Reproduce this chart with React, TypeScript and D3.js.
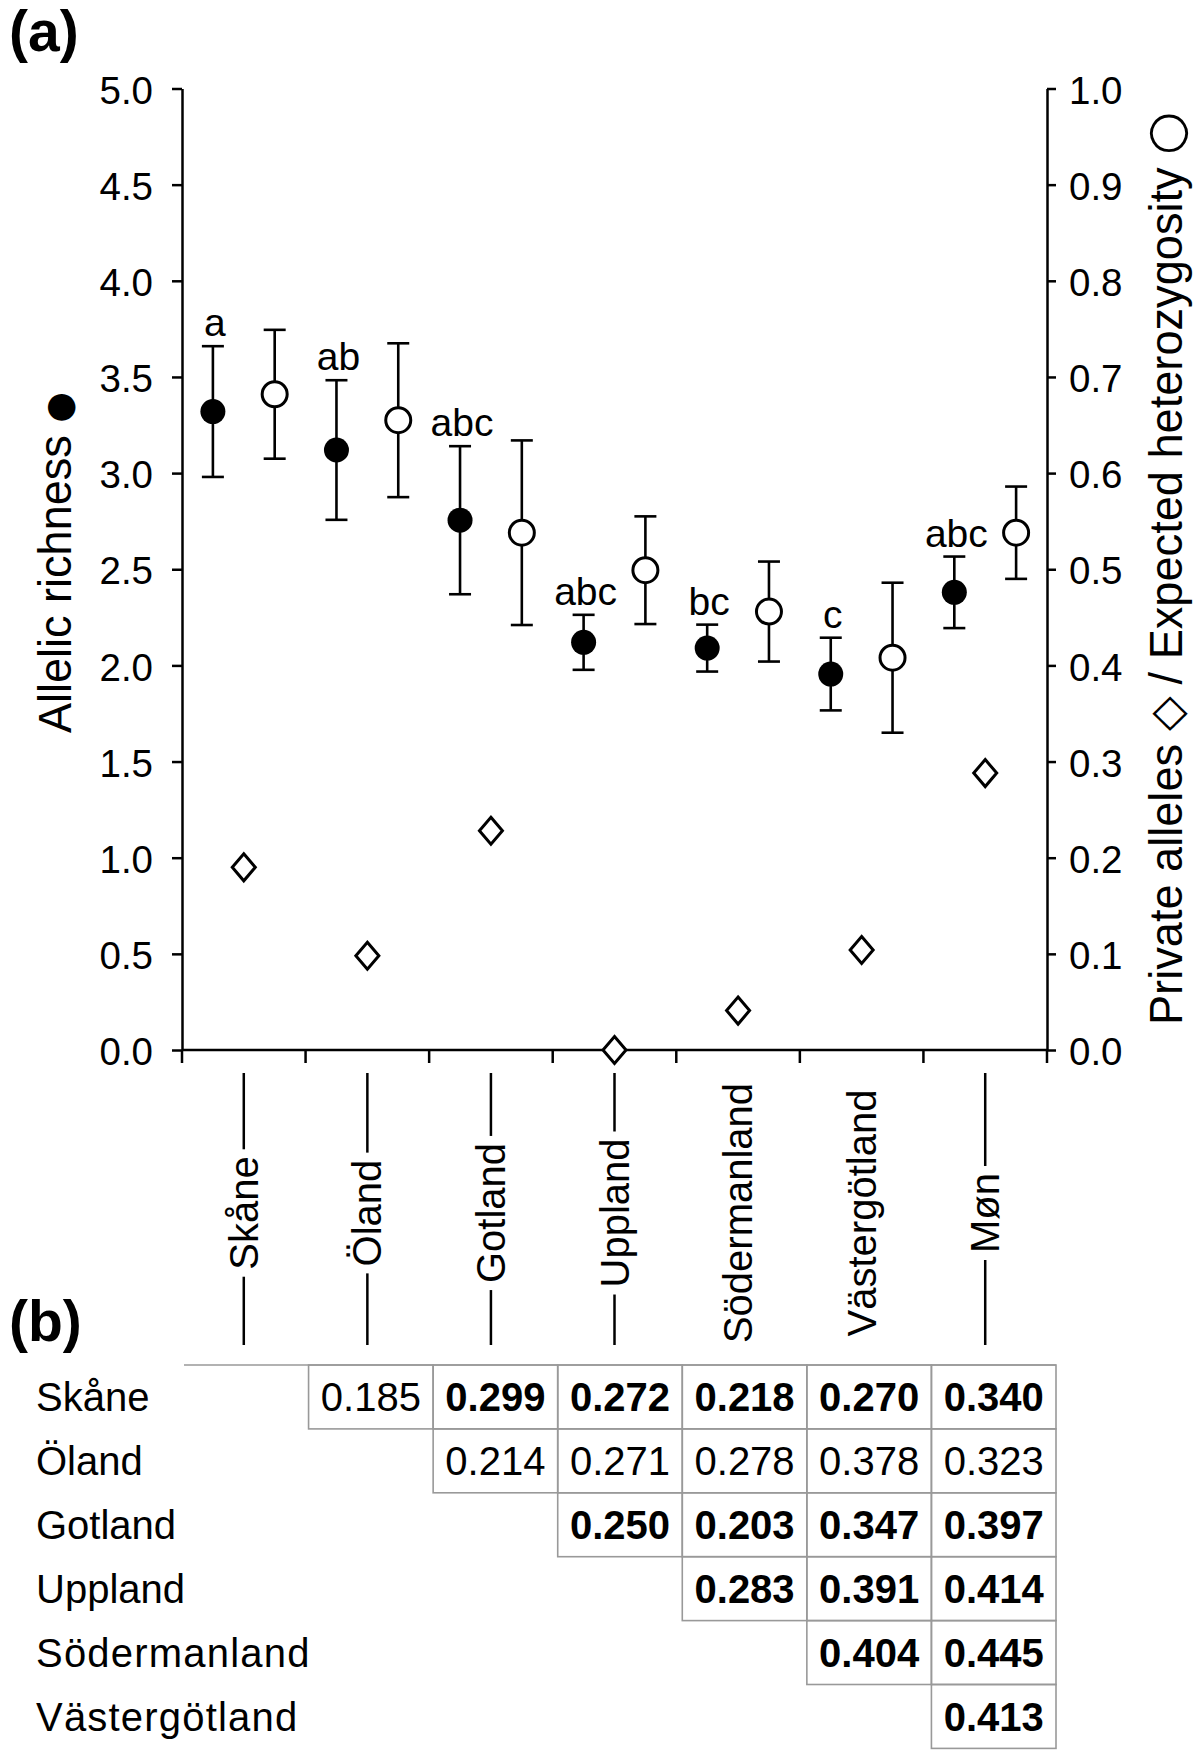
import React, { useEffect, useRef } from "react";
import * as d3 from "d3";

// ---------- data ----------
const categories = ["Skåne", "Öland", "Gotland", "Uppland", "Södermanland", "Västergötland", "Møn"];
const allelicRichness = [3.32, 3.12, 2.755, 2.12, 2.09, 1.955, 2.38];
const allelicRichnessErr = [0.34, 0.363, 0.385, 0.143, 0.122, 0.189, 0.186];
const expectedHet = [0.682, 0.655, 0.538, 0.499, 0.456, 0.408, 0.538];
const expectedHetErr = [0.067, 0.08, 0.096, 0.056, 0.052, 0.078, 0.048];
const privateAlleles = [0.19, 0.098, 0.228, 0.0, 0.041, 0.104, 0.288];
const groupLetters = ["a", "ab", "abc", "abc", "bc", "c", "abc"];
const leftTicks = [0, 0.5, 1.0, 1.5, 2.0, 2.5, 3.0, 3.5, 4.0, 4.5, 5.0];
const rightTicks = [0, 0.1, 0.2, 0.3, 0.4, 0.5, 0.6, 0.7, 0.8, 0.9, 1.0];
// axis titles as [text, symbolFontSize or 0] pieces
const leftTitleParts: [string, number][] = [["Allelic richness ", 0], ["●", 36]];
const rightTitleParts: [string, number][] = [
  ["Private alleles ", 0], ["◇", 0], [" / Expected heterozygosity ", 0], ["○", 50],
];

const tableRows = ["Skåne", "Öland", "Gotland", "Uppland", "Södermanland", "Västergötland"];
const fstValues = [
  [0.185, 0.299, 0.272, 0.218, 0.27, 0.34],
  [0.214, 0.271, 0.278, 0.378, 0.323],
  [0.25, 0.203, 0.347, 0.397],
  [0.283, 0.391, 0.414],
  [0.404, 0.445],
  [0.413],
];
const fstSignificant = [
  [false, true, true, true, true, true],
  [false, false, false, false, false],
  [true, true, true, true],
  [true, true, true],
  [true, true],
  [true],
];

export default function App() {
  const ref = useRef<SVGSVGElement>(null);

  useEffect(() => {
    const svg = d3.select(ref.current);
    svg.selectAll("*").remove();
    const W = 1200, H = 1750;
    const font = "'Liberation Sans', Arial, Helvetica, sans-serif";
    const symFont = "'DejaVu Sans', sans-serif";
    const ink = "#000";
    svg.append("rect").attr("width", W).attr("height", H).attr("fill", "#fff");
    const root = svg.append("g").attr("font-family", font).attr("fill", ink);

    const plotLeft = 182, plotRight = 1047, plotTop = 88.5, plotBottom = 1050;
    const x = d3.scaleBand<string>().domain(categories).range([plotLeft, plotRight]);
    const bw = x.bandwidth();
    const yL = d3.scaleLinear().domain([0, 5]).range([plotBottom, plotTop]);
    const yR = d3.scaleLinear().domain([0, 1]).range([plotBottom, plotTop]);
    const xFilled = (c: string) => (x(c) as number) + bw * 0.25;
    const xOpen = (c: string) => (x(c) as number) + bw * 0.75;
    const xMid = (c: string) => (x(c) as number) + bw / 2;

    // panel labels
    root.append("text").attr("x", 9).attr("y", 51).attr("font-size", 57).attr("font-weight", "bold").text("(a)");
    root.append("text").attr("x", 9).attr("y", 1341).attr("font-size", 57).attr("font-weight", "bold").text("(b)");

    // left axis
    const axL = root.append("g").attr("transform", `translate(${plotLeft},0)`)
      .call(d3.axisLeft(yL).tickValues(leftTicks).tickFormat(d3.format(".1f")).tickSize(10).tickSizeOuter(0).tickPadding(19));
    // right axis
    const axR = root.append("g").attr("transform", `translate(${plotRight},0)`)
      .call(d3.axisRight(yR).tickValues(rightTicks).tickFormat(d3.format(".1f")).tickSize(9).tickSizeOuter(0).tickPadding(13));
    [axL, axR].forEach((ax) => {
      ax.attr("font-family", font).attr("font-size", 38.5);
      ax.select(".domain").attr("stroke", ink).attr("stroke-width", 2.5);
      ax.selectAll(".tick line").attr("stroke", ink).attr("stroke-width", 2.5);
      ax.selectAll(".tick text").attr("fill", ink).attr("dy", "0.38em");
    });

    // x axis
    root.append("line").attr("x1", plotLeft).attr("x2", plotRight).attr("y1", plotBottom).attr("y2", plotBottom)
      .attr("stroke", ink).attr("stroke-width", 2.5);
    const bounds = categories.map((c) => x(c) as number).concat([plotRight]);
    root.selectAll(".xtick").data(bounds).enter().append("line")
      .attr("x1", (d) => d).attr("x2", (d) => d).attr("y1", plotBottom).attr("y2", plotBottom + 13)
      .attr("stroke", ink).attr("stroke-width", 2.5);

    // category labels with guide lines
    const labTop = 1073, labBottom = 1345, labCenter = 1213;
    categories.forEach((c) => {
      const cx = xMid(c);
      const t = root.append("text")
        .attr("transform", `translate(${cx},${labCenter}) rotate(-90)`)
        .attr("text-anchor", "middle").attr("dy", "0.35em").attr("font-size", 40).text(c);
      const L = (t.node() as SVGTextElement).getComputedTextLength();
      const gap = 7;
      const segs = [[labTop, labCenter - L / 2 - gap], [labCenter + L / 2 + gap, labBottom]];
      segs.forEach(([a, b]) => {
        if (b - a > 16) {
          root.append("line").attr("x1", cx).attr("x2", cx).attr("y1", a).attr("y2", b)
            .attr("stroke", ink).attr("stroke-width", 2.5);
        }
      });
    });

    // axis titles
    const addTitle = (parts: [string, number][], tx: number, ty: number, size: number, len: number) => {
      const t = root.append("text")
        .attr("transform", `translate(${tx},${ty}) rotate(-90)`)
        .attr("text-anchor", "middle").attr("font-size", size)
        .attr("textLength", len).attr("lengthAdjust", "spacingAndGlyphs");
      parts.forEach(([txt, symSize]) => {
        const sp = t.append("tspan").text(txt);
        if (symSize > 0) sp.attr("font-family", symFont).attr("font-size", symSize);
      });
    };
    addTitle(leftTitleParts, 70.5, 562.5, 46, 341);
    addTitle(rightTitleParts, 1182, 568.5, 46, 913);

    const capW = 11, sw = 2.6;
    const marks = root.append("g");
    // error bars: allelic richness (filled)
    categories.forEach((c, i) => {
      const cx = xFilled(c);
      const lo = yL(allelicRichness[i] - allelicRichnessErr[i]);
      const hi = yL(allelicRichness[i] + allelicRichnessErr[i]);
      marks.append("line").attr("x1", cx).attr("x2", cx).attr("y1", lo).attr("y2", hi).attr("stroke", ink).attr("stroke-width", sw);
      [lo, hi].forEach((yy) => marks.append("line").attr("x1", cx - capW).attr("x2", cx + capW).attr("y1", yy).attr("y2", yy).attr("stroke", ink).attr("stroke-width", sw));
      marks.append("text").attr("x", cx + 2).attr("y", hi - 10).attr("text-anchor", "middle").attr("font-size", 39).text(groupLetters[i]);
    });
    // error bars: expected heterozygosity (open)
    categories.forEach((c, i) => {
      const cx = xOpen(c);
      const lo = yR(expectedHet[i] - expectedHetErr[i]);
      const hi = yR(expectedHet[i] + expectedHetErr[i]);
      marks.append("line").attr("x1", cx).attr("x2", cx).attr("y1", lo).attr("y2", hi).attr("stroke", ink).attr("stroke-width", sw);
      [lo, hi].forEach((yy) => marks.append("line").attr("x1", cx - capW).attr("x2", cx + capW).attr("y1", yy).attr("y2", yy).attr("stroke", ink).attr("stroke-width", sw));
    });
    // markers
    categories.forEach((c, i) => {
      marks.append("circle").attr("cx", xFilled(c)).attr("cy", yL(allelicRichness[i])).attr("r", 12.5).attr("fill", ink);
      marks.append("circle").attr("cx", xOpen(c)).attr("cy", yR(expectedHet[i])).attr("r", 12.5)
        .attr("fill", "#fff").attr("stroke", ink).attr("stroke-width", 3);
      const dx = xMid(c), dy = yR(privateAlleles[i]);
      marks.append("path").attr("d", `M${dx},${dy - 13.5}L${dx + 11.5},${dy}L${dx},${dy + 13.5}L${dx - 11.5},${dy}Z`)
        .attr("fill", "#fff").attr("stroke", ink).attr("stroke-width", 3);
    });

    // ---------- table (b) ----------
    const tLeft = 184, tRight = 1056, tTop = 1365, rowH = 63.9;
    const tx = d3.scaleBand<string>().domain(categories).range([tLeft, tRight]);
    const ty = d3.scaleBand<string>().domain(tableRows).range([tTop, tTop + rowH * tableRows.length]);
    const grid = "#999";
    const tbl = root.append("g");
    tbl.append("line").attr("x1", tLeft).attr("x2", tRight).attr("y1", tTop).attr("y2", tTop).attr("stroke", grid).attr("stroke-width", 1.6);
    tableRows.forEach((r, i) => {
      const y0 = ty(r) as number;
      const lab = tbl.append("text").attr("x", 36).attr("y", y0 + rowH / 2 + 14.5).attr("font-size", 40).text(r);
      if (r.length > 10) lab.attr("letter-spacing", 1.2);
      fstValues[i].forEach((v, k) => {
        const col = categories[i + 1 + k];
        const x0 = tx(col) as number;
        const cw = tx.bandwidth();
        tbl.append("rect").attr("x", x0).attr("y", y0).attr("width", cw).attr("height", rowH)
          .attr("fill", "none").attr("stroke", grid).attr("stroke-width", 1.6);
        tbl.append("text").attr("x", x0 + cw / 2).attr("y", y0 + rowH / 2 + 14.5).attr("text-anchor", "middle")
          .attr("font-size", 40).attr("font-weight", fstSignificant[i][k] ? "bold" : "normal").text(v.toFixed(3));
      });
    });
  }, []);

  return (
    <svg ref={ref} width={1200} height={1750}
      style={{ position: "absolute", left: 0, top: 0, display: "block" }} />
  );
}
